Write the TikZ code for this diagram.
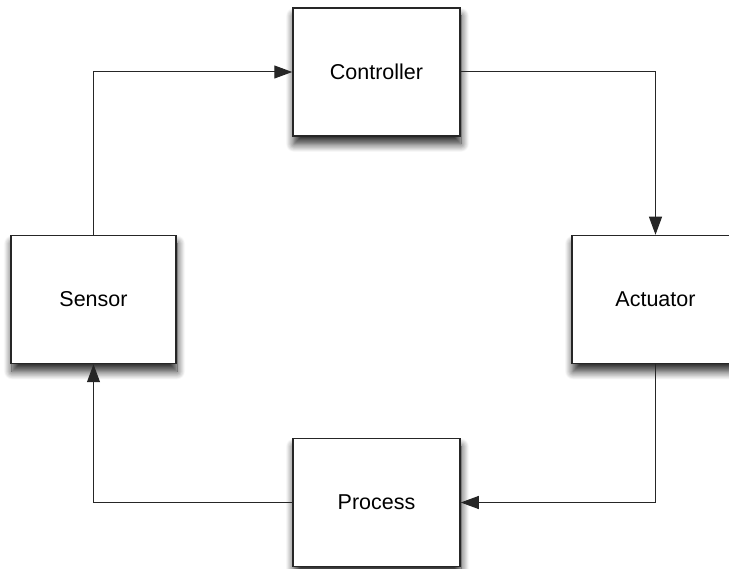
\documentclass[tikz,border=0pt]{standalone}
\usepackage{fontspec}
\setmainfont{Liberation Sans}
\usetikzlibrary{arrows.meta,shadows.blur}
\begin{document}
\begin{tikzpicture}[x=1pt,y=-1pt,
  block/.style={draw=black!85, line width=1.5pt, fill=white,
    minimum width=167pt, minimum height=128pt, inner sep=0pt,
    font=\fontsize{21.5}{26}\selectfont,
    blur shadow={shadow xshift=1pt, shadow yshift=-8pt,
      shadow blur radius=8pt, shadow blur steps=12, shadow opacity=85}},
  link/.style={draw=black!85, line width=1pt,
    -{Triangle[length=18pt,width=13pt]}}]
\useasboundingbox (0,0) rectangle (729,569);
\clip (0,0) rectangle (729,569);
\node[block] (controller) at (376.5,72) {Controller};
\node[block, minimum width=165pt] (sensor) at (93.5,299.5) {Sensor};
\node[block] (actuator) at (655.5,299.5) {Actuator};
\node[block] (process) at (376.5,502.5) {Process};
\draw[link] (sensor.north) |- (controller.west);
\draw[link] (controller.east) -| (actuator.north);
\draw[link] (actuator.south) |- (process.east);
\draw[link] (process.west) -| (sensor.south);
\end{tikzpicture}
\end{document}
